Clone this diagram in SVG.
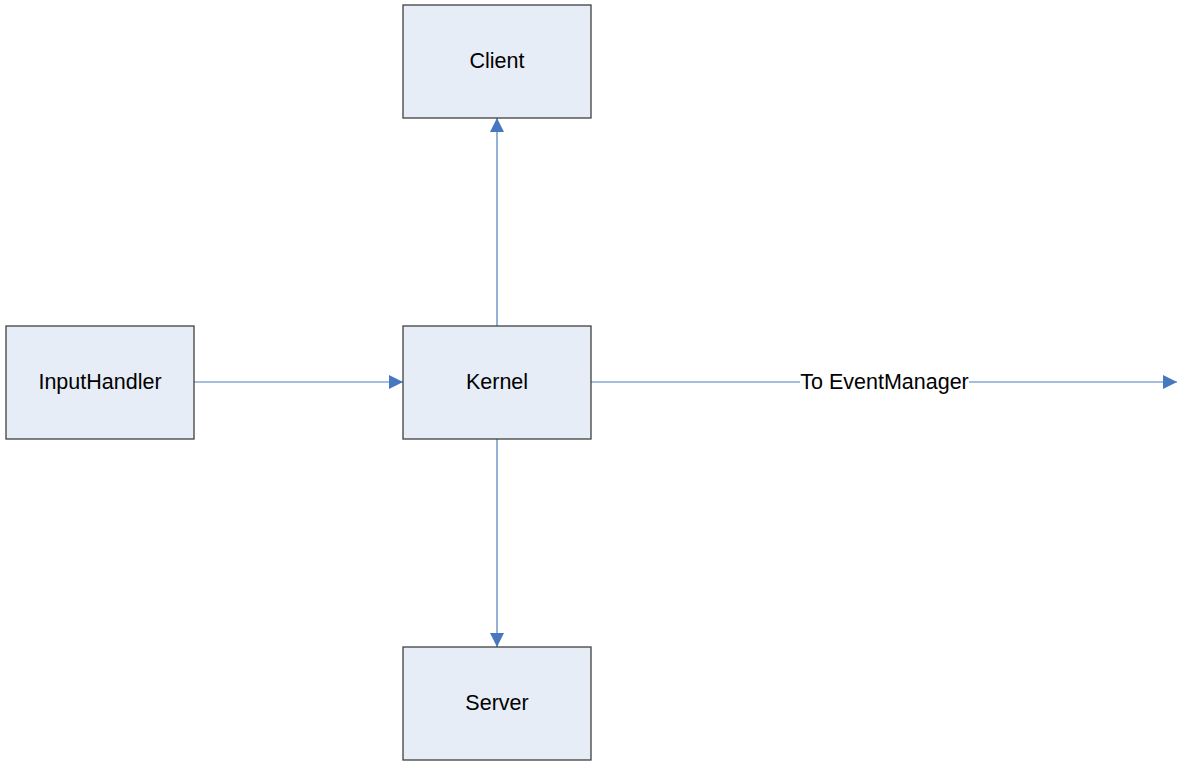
<svg xmlns="http://www.w3.org/2000/svg" width="1177" height="762" viewBox="0 0 1177 762">
  <style>
    .box { fill: #E6EDF7; stroke: #404040; stroke-width: 1.3; }
    .lbl { font-family: "Liberation Sans", Arial, sans-serif; font-size: 21.5px; fill: #000; text-anchor: middle; dominant-baseline: central; }
    .wire { stroke: #4A7EBB; stroke-width: 1.2; fill: none; marker-end: url(#head); }
  </style>
  <defs>
    <marker id="head" markerUnits="userSpaceOnUse" markerWidth="15" markerHeight="15" refX="14" refY="7" orient="auto">
      <path d="M0,0 L14,7 L0,14 Z" fill="#4777C0"/>
    </marker>
  </defs>
  <rect width="1177" height="762" fill="#FFFFFF"/>

  <g id="connectors">
    <line class="wire" x1="497" y1="326" x2="497" y2="118"/>
    <line class="wire" x1="194" y1="382" x2="403" y2="382"/>
    <line class="wire" x1="497" y1="439" x2="497" y2="647"/>
    <line class="wire" x1="591" y1="382" x2="1177" y2="382"/>
    <rect x="800" y="370" width="169" height="24" fill="#FFFFFF"/>
    <text class="lbl" x="884.5" y="382">To EventManager</text>
  </g>

  <g id="client">
    <rect class="box" x="403" y="5" width="188" height="113"/>
    <text class="lbl" x="497" y="61">Client</text>
  </g>
  <g id="inputhandler">
    <rect class="box" x="6" y="326" width="188" height="113"/>
    <text class="lbl" x="100" y="382">InputHandler</text>
  </g>
  <g id="kernel">
    <rect class="box" x="403" y="326" width="188" height="113"/>
    <text class="lbl" x="497" y="382">Kernel</text>
  </g>
  <g id="server">
    <rect class="box" x="403" y="647" width="188" height="113"/>
    <text class="lbl" x="497" y="703">Server</text>
  </g>
</svg>
